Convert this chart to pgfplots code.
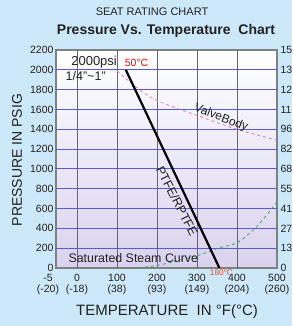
\documentclass[border=0pt]{standalone}
\usepackage{pgfplots}
\pgfplotsset{compat=1.18}
\usepackage{fontspec}
\setmainfont{Liberation Sans}
\definecolor{bgblue}{HTML}{CDE8F8}
\definecolor{lav}{HTML}{D9D2EE}
\definecolor{gridc}{HTML}{5A5ACC}
\definecolor{framec}{HTML}{808080}
\definecolor{valvec}{HTML}{D27CC0}
\definecolor{steamc}{HTML}{36A86A}
\definecolor{txt}{HTML}{222222}
\begin{document}
\begin{tikzpicture}[x=1pt,y=1pt]
\useasboundingbox (0,0) rectangle (292,326);
\fill[bgblue] (0,0) rectangle (292,326);
\shade[top color=white, bottom color=lav] (56,58) rectangle (277,276);
\begin{axis}[
  at={(56pt,58pt)}, anchor=south west,
  scale only axis, width=221pt, height=218pt,
  xmin=-52.5, xmax=500, ymin=0, ymax=2200,
  clip=false,
  axis line style={framec, line width=1.4pt},
  major tick length=0pt,
  xtick={0,100,200,300,400,500},
  xticklabels={{0\\(-18)},{100\\(38)},{200\\(93)},{300\\(149)},{400\\(204)},{500\\(260)}},
  extra x ticks={-52.5},
  extra x tick labels={{-5\\(-20)}},
  extra x tick style={xticklabel style={xshift=-8pt}},
  xticklabel style={align=center, font=\fontsize{10.5}{11}\selectfont, text=txt, yshift=-3pt},
  ytick={0,200,...,2200},
  yticklabel style={font=\fontsize{10.5}{11}\selectfont, text=txt, xshift=1pt},
  /pgf/number format/assume math mode=true,
  /pgf/number format/1000 sep={},
]
\pgfplotsinvokeforeach{200,400,...,2000}{\draw[gridc, line width=0.9pt] (axis cs:-52.5,#1) -- (axis cs:500,#1);}
\pgfplotsinvokeforeach{0,100,200,300,400}{\draw[gridc, line width=0.9pt] (axis cs:#1,0) -- (axis cs:#1,2200);}
\addplot[valvec, dashed, line width=0.8pt, smooth] coordinates {
  (100,1990) (150,1820) (200,1690) (300,1540) (400,1400) (500,1290)};
\addplot[steamc, dashed, line width=0.8pt, smooth] coordinates {
  (140,0) (200,25) (300,125) (357,205) (400,255) (450,420) (500,666)};
\addplot[black, line width=2.2pt] coordinates {(122,2000) (356,0)};
\node[anchor=west, font=\fontsize{13}{13}\selectfont, text=txt] at (axis cs:-23,2080) {2000psi};
\node[anchor=west, font=\fontsize{12.5}{13}\selectfont, text=txt] at (axis cs:-37,1937) {1/4"\char`~1"};
\node[font=\fontsize{10.5}{11}\selectfont, text=red] at (axis cs:149,2068) {50°C};
\node[font=\fontsize{8.2}{9}\selectfont, text={rgb,255:red,232;green,70;blue,40}] at (axis cs:361,-50) {180°C};
\node[anchor=west, font=\fontsize{12.4}{13}\selectfont, text=txt] at (axis cs:-30,101) {Saturated Steam Curve};
\node[rotate=-21, font=\fontsize{12}{12}\selectfont, text=txt] at (axis cs:360,1514) {ValveBody};
\node[rotate=-63, font=\fontsize{12.5}{13}\selectfont, text=txt] at (axis cs:250,676) {PTFE/RPTFE};
\end{axis}
\begin{axis}[
  at={(56pt,58pt)}, anchor=south west,
  scale only axis, width=221pt, height=218pt,
  xmin=-52.5, xmax=500, ymin=0, ymax=2200,
  axis x line=none, axis y line*=right,
  axis line style={draw=none},
  major tick length=0pt,
  ytick={0,200,...,2200},
  yticklabels={0,13,27,41,55,68,82,96,11,12,13,15},
  yticklabel style={font=\fontsize{10.5}{11}\selectfont, text=txt, xshift=0pt},
]
\end{axis}
\node[font=\fontsize{11}{12}\selectfont, text=txt] at (152,314) {SEAT RATING CHART};
\node[font=\bfseries\fontsize{14}{15}\selectfont, text=txt] at (166,295) {Pressure Vs. Temperature\ \ Chart};
\node[rotate=90, font=\fontsize{14}{15}\selectfont, text=txt] at (17,166) {PRESSURE IN PSIG};
\node[font=\fontsize{15}{16}\selectfont, text=txt] at (167,14) {TEMPERATURE\ \ IN °F(°C)};
\end{tikzpicture}
\end{document}
